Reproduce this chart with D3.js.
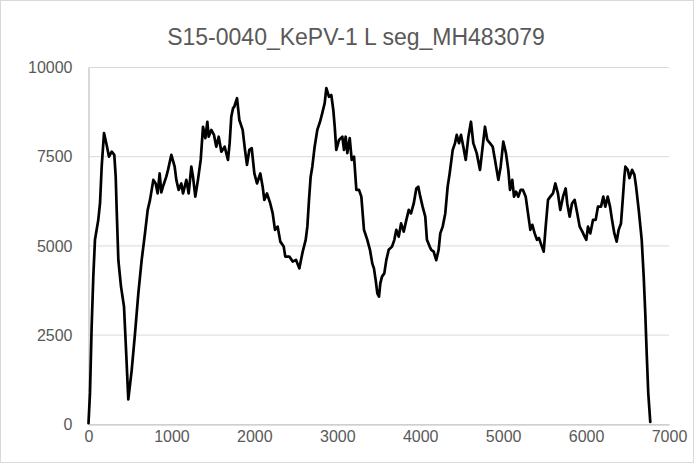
<!DOCTYPE html>
<html>
<head>
<meta charset="utf-8">
<script src="https://cdn.jsdelivr.net/npm/d3@7"></script>
<style>
  body { margin: 0; background: #fff; }
  text { font-family: "Liberation Sans", Arial, sans-serif; fill: #595959; }
</style>
</head>
<body>
<svg id="chart" width="694" height="463"></svg>
<script>
// Chart values.
var chartTitle = "S15-0040_KePV-1 L seg_MH483079";
var xTicks = [0, 1000, 2000, 3000, 4000, 5000, 6000, 7000];
var yTicks = [0, 2500, 5000, 7500, 10000];
var positions = [0, 18, 38, 58, 78, 118, 139, 159, 187, 219, 247, 280, 311, 328, 340, 360, 392, 428, 449, 480,
  521, 561, 601, 641, 681, 714, 742, 782, 810, 834, 858, 878, 898, 938, 959, 999, 1039, 1059, 1087, 1119,
  1140, 1180, 1208, 1240, 1260, 1288, 1320, 1353, 1381, 1409, 1433, 1449, 1481, 1513, 1541, 1570, 1602, 1642, 1682, 1702,
  1722, 1743, 1758, 1791, 1819, 1859, 1887, 1911, 1939, 1968, 2000, 2032, 2072, 2100, 2120, 2152, 2192, 2221, 2249, 2281,
  2313, 2354, 2373, 2422, 2462, 2502, 2542, 2583, 2619, 2639, 2659, 2679, 2699, 2727, 2759, 2792, 2819, 2848, 2868, 2900,
  2928, 2952, 2969, 2988, 3021, 3061, 3081, 3101, 3121, 3150, 3174, 3202, 3230, 3262, 3290, 3322, 3362, 3394, 3422, 3442,
  3463, 3483, 3503, 3519, 3539, 3567, 3591, 3620, 3660, 3688, 3712, 3741, 3769, 3801, 3833, 3862, 3889, 3922, 3953, 3977,
  4001, 4029, 4061, 4081, 4114, 4133, 4162, 4193, 4222, 4242, 4271, 4302, 4331, 4355, 4392, 4420, 4440, 4468, 4492, 4520,
  4549, 4581, 4612, 4640, 4681, 4721, 4753, 4781, 4809, 4841, 4874, 4902, 4942, 4970, 5002, 5034, 5062, 5083, 5110, 5131,
  5155, 5183, 5211, 5239, 5272, 5300, 5328, 5352, 5380, 5408, 5432, 5460, 5489, 5513, 5541, 5569, 5601, 5629, 5661, 5689,
  5722, 5754, 5773, 5802, 5830, 5862, 5894, 5923, 5955, 5983, 6003, 6023, 6051, 6084, 6116, 6143, 6180, 6208, 6232, 6261,
  6289, 6313, 6341, 6369, 6393, 6421, 6442, 6462, 6474, 6503, 6523, 6555, 6583, 6603, 6635, 6671, 6695, 6714, 6731, 6750, 6774];
var coverage = [30, 880, 2740, 4140, 5170, 5730, 6200, 7220, 8160, 7830, 7500, 7640, 7550, 6940, 6010, 4600, 3860, 3300, 2270, 700,
  1520, 2550, 3670, 4600, 5350, 6010, 6290, 6850, 6750, 6470, 7030, 6500, 6660, 6940, 7130, 7550, 7220, 6850, 6570, 6750,
  6470, 6850, 6470, 7220, 6940, 6380, 6850, 7410, 8340, 8020, 8480, 8060, 8250, 8110, 7780, 8060, 7640, 7780, 7410, 7880,
  8620, 8860, 8900, 9140, 8530, 8250, 7690, 7270, 7690, 7740, 7030, 6750, 7030, 6660, 6290, 6470, 6190, 5910, 5450, 5540,
  5120, 4980, 4700, 4700, 4560, 4610, 4370, 4840, 5170, 5540, 6290, 6940, 7220, 7780, 8250, 8480, 8720, 9000, 9420, 9180,
  9230, 8810, 8340, 7690, 7970, 8060, 7690, 8060, 7600, 8020, 7410, 7500, 6570, 6570, 6380, 5450, 5170, 4890, 4510, 4370,
  4040, 3670, 3580, 3950, 4140, 4230, 4600, 4890, 4980, 5170, 5450, 5260, 5630, 5400, 5730, 6010, 5910, 6190, 6610, 6660,
  6380, 6100, 5820, 5170, 4980, 4890, 4840, 4600, 4890, 5350, 5540, 5910, 6660, 7030, 7690, 7880, 8110, 7880, 8110, 7780,
  7410, 8060, 8480, 7880, 7600, 7130, 7780, 8340, 7970, 7880, 7780, 7410, 6850, 7220, 7920, 7600, 7130, 6570, 6850, 6380,
  6520, 6380, 6570, 6570, 6380, 5910, 5450, 5590, 5350, 5170, 5220, 5030, 4840, 5540, 6290, 6380, 6470, 6750, 6470, 6010,
  6380, 6610, 6190, 5820, 6190, 6290, 5910, 5540, 5400, 5260, 5170, 5540, 5350, 5730, 5730, 6100, 6100, 6380, 6100, 6380,
  6100, 5730, 5350, 5120, 5450, 5630, 6290, 6940, 7220, 7130, 6900, 7130, 6990, 6660, 6010, 5170, 4140, 3110, 1990, 870, 70];

var svg = d3.select("#chart");
var W = 694, H = 463;
var plotLeft = 88.5, plotRight = 669, plotTop = 67.5, plotBottom = 424.3;

// Thin frame round the chart area like the Excel export.
svg.append("rect").attr("x", 0.5).attr("y", 0.5).attr("width", W - 1).attr("height", H - 1)
  .attr("fill", "#fff").attr("stroke", "#d9d9d9");

var x = d3.scaleLinear().domain([0, 7000]).range([plotLeft, plotRight]);
var y = d3.scaleLinear().domain([0, 10000]).range([plotBottom, plotTop]);

// Gridlines
svg.append("g").selectAll("line").data(yTicks.filter(function(d){ return d > 0; })).enter()
  .append("line")
  .attr("x1", plotLeft).attr("x2", plotRight)
  .attr("y1", function(d){ return y(d); }).attr("y2", function(d){ return y(d); })
  .attr("stroke", "#d9d9d9").attr("stroke-width", 1);

// Axes
var yAxis = svg.append("g").attr("transform", "translate(" + plotLeft + ",0)")
  .call(d3.axisLeft(y).tickValues(yTicks).tickSize(0).tickPadding(16).tickFormat(d3.format("d")));
var xAxis = svg.append("g").attr("transform", "translate(0," + plotBottom + ")")
  .call(d3.axisBottom(x).tickValues(xTicks).tickSize(0).tickPadding(6).tickFormat(d3.format("d")));
yAxis.select(".domain").attr("stroke", "#bfbfbf").attr("stroke-width", 1.2);
xAxis.select(".domain").attr("stroke", "#bfbfbf").attr("stroke-width", 1.2);
svg.selectAll(".tick text").attr("font-size", 16).style("fill", "#595959")
  .attr("font-family", "Liberation Sans, Arial, sans-serif");

// The coverage line
var line = d3.line()
  .x(function(d, i){ return x(positions[i]); })
  .y(function(d){ return y(d); });
svg.append("path").datum(coverage)
  .attr("d", line)
  .attr("fill", "none").attr("stroke", "#000").attr("stroke-width", 2.7)
  .attr("stroke-linejoin", "round").attr("stroke-linecap", "round");

// Title
svg.append("text").attr("x", 356).attr("y", 45).attr("text-anchor", "middle")
  .attr("font-size", 23).text(chartTitle);
</script>
</body>
</html>
